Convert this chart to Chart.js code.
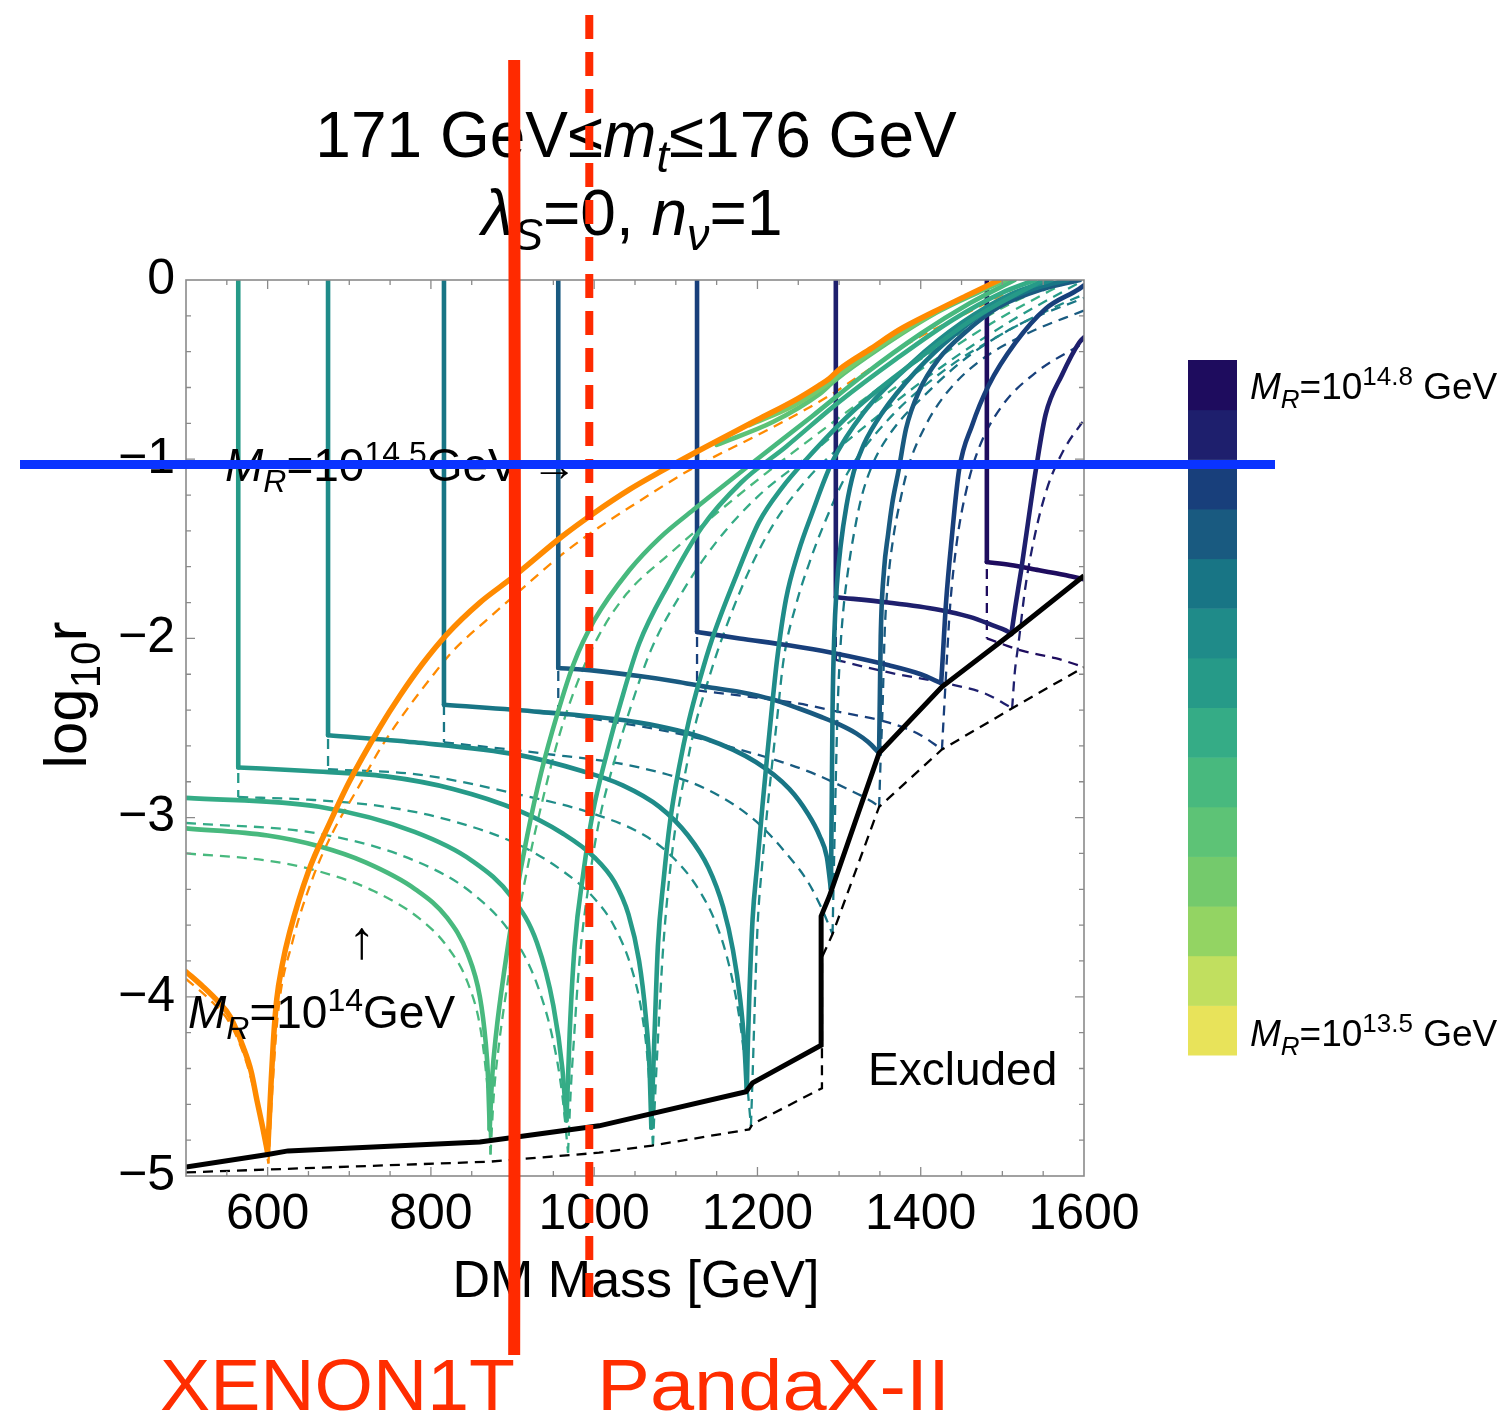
<!DOCTYPE html>
<html>
<head>
<meta charset="utf-8">
<script src="https://cdn.jsdelivr.net/npm/chart.js@4.4.1/dist/chart.umd.min.js"></script>
<style>
  html, body { margin: 0; padding: 0; background: #fff; }
  canvas { display: block; }
</style>
</head>
<body>
<canvas id="chart" width="1506" height="1417"></canvas>
<script>
// axis ticks
const xTicks = [600, 800, 1000, 1200, 1400, 1600];
const yTicks = [0, -1, -2, -3, -4, -5];

// colour bar levels, log10(M_R / GeV), bottom to top
const mrLevels = [13.5, 13.6, 13.7, 13.8, 13.9, 14.0, 14.1, 14.2, 14.3, 14.4, 14.5, 14.6, 14.7, 14.8];
const mrColors = ['#e8e35a', '#c1df5f', '#93d463', '#74ca6c', '#5dc376', '#48b97e', '#35ac86',
                  '#269a88', '#1f8b89', '#187585', '#195a80', '#183f7b', '#1e1f6d', '#1e0c5e'];

// [DM mass, log10 r]
const orangeSolid = [[500,-3.86],[520,-3.94],[540,-4.03],[554,-4.11],[570,-4.28],[580,-4.42],[587,-4.58],[594,-4.73],[600,-4.87],
  [604,-4.5],[607,-4.25],[611,-4.02],[618,-3.82],[627,-3.64],[650,-3.30],[676,-3.03],[700,-2.80],[737,-2.50],[762,-2.32],
  [790,-2.14],[819,-1.98],[860,-1.80],[900,-1.66],[961,-1.43],[1000,-1.30],[1043,-1.17],[1085,-1.06],[1125,-0.96],
  [1200,-0.78],[1250,-0.66],[1275,-0.59],[1288,-0.55],[1300,-0.50],[1340,-0.38],[1373,-0.28],[1415,-0.18],[1455,-0.09],[1496,0]];
const orangeDashed = [[500,-3.90],[530,-4.02],[554,-4.15],[575,-4.38],[590,-4.66],[601,-4.93],[606,-4.5],[613,-4.08],[630,-3.70],
  [655,-3.34],[680,-3.08],[710,-2.84],[740,-2.60],[770,-2.40],[800,-2.22],[827,-2.07],[870,-1.89],[900,-1.77],[961,-1.53],
  [1006,-1.38],[1043,-1.27],[1117,-1.06],[1211,-0.84],[1260,-0.72],[1290,-0.64],[1320,-0.55],[1394,-0.33],[1450,-0.20],[1492,-0.10],[1535,0]];

const mr139Solid = [[1150,-0.92],[1220,-0.79],[1275,-0.64],[1295,-0.56],[1350,-0.38],[1420,-0.18],[1470,-0.07],[1505,0]];
const mr138Solid = [[1190,-0.81],[1245,-0.70],[1283,-0.59],[1300,-0.53],[1360,-0.34],[1430,-0.15],[1500,0]];

const mr140Solid = [[500,-3.06],[600,-3.10],[663,-3.16],[720,-3.25],[781,-3.40],[820,-3.56],[845,-3.76],[860,-4.00],[867,-4.25],
  [870,-4.45],[872,-4.74],[875,-4.45],[880,-4.20],[890,-3.85],[903,-3.47],[918,-3.10],[935,-2.75],[955,-2.42],[975,-2.14],
  [1000,-1.90],[1043,-1.62],[1080,-1.44],[1125,-1.27],[1194,-1.02],[1267,-0.76],[1330,-0.53],[1400,-0.30],[1460,-0.13],[1515,0]];
const mr140Dashed = [[500,-3.20],[600,-3.24],[663,-3.30],[730,-3.41],[785,-3.56],[820,-3.72],[845,-3.92],[860,-4.16],[867,-4.40],
  [871,-4.62],[873,-4.88],[877,-4.55],[883,-4.28],[893,-3.95],[906,-3.58],[921,-3.22],[938,-2.88],[958,-2.53],[980,-2.24],
  [1005,-1.99],[1040,-1.75],[1092,-1.53],[1140,-1.34],[1210,-1.08],[1285,-0.82],[1350,-0.60],[1420,-0.38],[1490,-0.18],[1570,0]];

const mr141Solid = [[500,-2.89],[663,-2.94],[780,-3.08],[850,-3.24],[900,-3.45],[930,-3.70],[950,-4.05],[961,-4.40],[966,-4.69],
  [968,-4.45],[970,-4.2],[976,-3.72],[987,-3.30],[998,-2.98],[1015,-2.65],[1033,-2.35],[1055,-2.03],[1092,-1.69],[1132,-1.38],
  [1180,-1.13],[1235,-0.93],[1300,-0.68],[1370,-0.44],[1440,-0.22],[1500,-0.07],[1540,0]];
const mr141Dashed = [[500,-3.03],[663,-3.09],[780,-3.24],[850,-3.42],[900,-3.66],[930,-3.93],[950,-4.25],[961,-4.55],[968,-4.87],
  [971,-4.55],[975,-4.25],[982,-3.80],[994,-3.35],[1006,-3.02],[1025,-2.68],[1045,-2.38],[1070,-2.06],[1108,-1.74],[1150,-1.46],
  [1200,-1.21],[1260,-0.99],[1330,-0.73],[1400,-0.50],[1480,-0.26],[1550,-0.08],[1585,0]];

const mr142Solid = [[564,0],[564,-2.72],[650,-2.74],[745,-2.77],[827,-2.84],[907,-2.96],[962,-3.09],[1000,-3.22],[1025,-3.36],
  [1042,-3.54],[1055,-3.80],[1063,-4.10],[1068,-4.42],[1070,-4.73],[1072,-4.45],[1074,-4.2],[1078,-3.72],[1085,-3.35],[1093,-3.02],
  [1104,-2.72],[1116,-2.46],[1130,-2.22],[1144,-2.01],[1175,-1.64],[1202,-1.35],[1230,-1.16],[1260,-1.00],[1320,-0.72],[1400,-0.43],
  [1470,-0.20],[1550,0]];
const mr142Dashed = [[564,0],[564,-2.885],[650,-2.90],[745,-2.94],[827,-3.02],[907,-3.15],[962,-3.30],[1000,-3.45],[1025,-3.61],
  [1045,-3.83],[1058,-4.08],[1066,-4.38],[1072,-4.83],[1075,-4.52],[1079,-4.16],[1084,-3.76],[1091,-3.38],[1100,-3.04],[1112,-2.74],
  [1124,-2.48],[1140,-2.23],[1155,-2.02],[1188,-1.64],[1220,-1.36],[1250,-1.17],[1280,-1.02],[1350,-0.75],[1430,-0.47],[1510,-0.23],
  [1580,-0.05],[1600,0]];

const mr143Solid = [[674,0],[674,-2.54],[780,-2.58],[907,-2.65],[985,-2.74],[1035,-2.82],[1080,-2.94],[1115,-3.10],[1140,-3.28],
  [1158,-3.50],[1170,-3.74],[1179,-4.02],[1184,-4.27],[1187,-4.53],[1188,-4.30],[1190,-4.00],[1194,-3.57],[1200,-3.25],[1206,-2.94],
  [1212,-2.65],[1217,-2.42],[1224,-2.12],[1235,-1.78],[1250,-1.52],[1267,-1.30],[1291,-1.02],[1330,-0.74],[1390,-0.46],[1450,-0.24],
  [1510,-0.08],[1560,0]];
const mr143Dashed = [[674,0],[674,-2.73],[785,-2.76],[907,-2.87],[1000,-2.98],[1062,-3.10],[1096,-3.22],[1125,-3.38],[1150,-3.60],
  [1165,-3.82],[1178,-4.12],[1186,-4.42],[1192,-4.72],[1194,-4.45],[1196,-4.15],[1200,-3.62],[1206,-3.25],[1212,-2.96],[1218,-2.70],
  [1224,-2.45],[1232,-2.12],[1248,-1.80],[1265,-1.56],[1280,-1.38],[1310,-1.08],[1360,-0.78],[1430,-0.50],[1500,-0.30],[1560,-0.16],
  [1600,-0.08]];

const mr144Solid = [[816,0],[816,-2.37],[933,-2.41],[1055,-2.47],[1137,-2.56],[1198,-2.69],[1239,-2.84],[1262,-2.98],[1276,-3.10],
  [1285,-3.22],[1290,-3.40],[1291,-2.90],[1292,-2.40],[1294,-2.00],[1297,-1.72],[1302,-1.48],[1309,-1.26],[1318,-1.07],[1330,-0.92],
  [1353,-0.74],[1394,-0.51],[1443,-0.30],[1496,-0.13],[1545,-0.04],[1580,0]];
const mr144Dashed = [[816,0],[816,-2.58],[933,-2.64],[1055,-2.72],[1137,-2.84],[1198,-3.02],[1239,-3.22],[1262,-3.36],[1278,-3.50],
  [1292,-3.65],[1294,-3.20],[1296,-2.78],[1298,-2.42],[1301,-2.10],[1305,-1.85],[1311,-1.62],[1318,-1.42],[1327,-1.22],[1340,-1.04],
  [1362,-0.86],[1410,-0.62],[1460,-0.42],[1520,-0.25],[1600,-0.10]];

const mr145Solid = [[956,0],[956,-2.165],[1000,-2.18],[1055,-2.21],[1100,-2.24],[1137,-2.27],[1180,-2.30],[1218,-2.34],[1250,-2.39],
  [1279,-2.44],[1300,-2.48],[1321,-2.53],[1336,-2.58],[1349,-2.64],[1350,-2.30],[1351,-1.99],[1355,-1.62],[1360,-1.42],[1365,-1.25],
  [1373,-1.06],[1382,-0.83],[1398,-0.62],[1422,-0.44],[1455,-0.29],[1496,-0.15],[1550,-0.05],[1595,0]];
const mr145Dashed = [[956,0],[956,-2.42],[1015,-2.46],[1080,-2.51],[1130,-2.56],[1178,-2.62],[1230,-2.69],[1272,-2.76],[1310,-2.84],
  [1340,-2.91],[1349,-2.94],[1351,-2.66],[1353,-2.42],[1356,-1.95],[1360,-1.68],[1366,-1.45],[1374,-1.25],[1385,-1.04],[1405,-0.82],
  [1430,-0.64],[1470,-0.46],[1530,-0.30],[1600,-0.17]];

const mr146Solid = [[1126,0],[1126,-1.964],[1178,-2.00],[1240,-2.04],[1291,-2.08],[1361,-2.15],[1400,-2.20],[1425,-2.25],[1426,-2.18],
  [1431,-1.80],[1438,-1.44],[1447,-1.06],[1463,-0.81],[1483,-0.59],[1516,-0.35],[1553,-0.16],[1594,-0.05],[1600,-0.03]];
const mr146Dashed = [[1126,0],[1126,-2.29],[1180,-2.32],[1246,-2.36],[1300,-2.41],[1361,-2.47],[1400,-2.54],[1426,-2.62],[1428,-2.45],
  [1431,-2.20],[1436,-1.82],[1444,-1.47],[1456,-1.17],[1472,-0.93],[1500,-0.70],[1540,-0.52],[1600,-0.35]];

const mr147Solid = [[1296,0],[1296,-1.77],[1360,-1.80],[1422,-1.84],[1460,-1.88],[1490,-1.93],[1504,-1.955],[1511,-1.975],[1516,-1.82],
  [1523,-1.62],[1535,-1.24],[1541,-1.06],[1553,-0.75],[1573,-0.53],[1594,-0.35],[1600,-0.32]];
const mr147Dashed = [[1296,0],[1296,-2.12],[1361,-2.19],[1430,-2.25],[1480,-2.31],[1512,-2.39],[1515,-2.2],[1520,-2.02],[1528,-1.72],
  [1540,-1.42],[1555,-1.16],[1575,-0.95],[1600,-0.78]];

const mr148Solid = [[1481,0],[1481,-1.574],[1510,-1.59],[1545,-1.62],[1575,-1.645],[1600,-1.67]];
const mr148Dashed = [[1481,0],[1481,-2.00],[1525,-2.07],[1565,-2.11],[1600,-2.16]];

const boundSolid = [[500,-4.95],[600,-4.88],[625,-4.86],[860,-4.81],[1006,-4.72],[1186,-4.53],[1194,-4.48],[1278,-4.27],[1278,-3.55],
  [1288,-3.44],[1349,-2.64],[1426,-2.27],[1512,-1.97],[1600,-1.65]];
const boundDashed = [[500,-4.98],[872,-4.92],[1006,-4.87],[1071,-4.83],[1190,-4.74],[1194,-4.71],[1279,-4.51],[1279,-3.78],[1292,-3.65],
  [1349,-2.94],[1426,-2.62],[1512,-2.39],[1600,-2.16]];

// hand-drawn marks on top of the figure
const xenonLimit = 902;
const pandaxLimit = 994;
const markLevel = -1.03;

const FONT = '"Liberation Sans", Arial, Helvetica, sans-serif';
const colorOf = lvl => mrColors[mrLevels.indexOf(lvl)];
const pts = arr => arr.map(p => ({ x: p[0], y: p[1] }));

// split a curve into its vertical drop, descending arm and rising arm
function pieces(arr) {
    const out = [];
    let start = 0;
    if (arr.length > 1 && arr[0][0] === arr[1][0]) {
        out.push({ data: arr.slice(0, 2), curved: false });
        start = 1;
    }
    let low = start;
    for (let i = start; i < arr.length; i++) if (arr[i][1] < arr[low][1]) low = i;
    if (low > start) out.push({ data: arr.slice(start, low + 1), curved: true });
    if (low < arr.length - 1) out.push({ data: arr.slice(low), curved: true });
    return out;
}

function curve(arr, color, width, dash, order) {
    return pieces(arr).map(p => ({
        data: pts(p.data),
        borderColor: color,
        borderWidth: width,
        borderDash: dash || [],
        borderCapStyle: dash ? 'butt' : 'round',
        cubicInterpolationMode: p.curved ? 'monotone' : 'default',
        showLine: true, pointRadius: 0, fill: false, order: order
    }));
}
function polyline(arr, color, width, dash, order) {
    return { data: pts(arr), borderColor: color, borderWidth: width, borderDash: dash || [],
             showLine: true, pointRadius: 0, fill: false, order: order };
}

const DASH = [10, 7];
const solids = [
    [mr138Solid, 13.8], [mr139Solid, 13.9], [mr140Solid, 14.0], [mr141Solid, 14.1], [mr142Solid, 14.2],
    [mr143Solid, 14.3], [mr144Solid, 14.4], [mr145Solid, 14.5], [mr146Solid, 14.6], [mr147Solid, 14.7], [mr148Solid, 14.8]
];
const dasheds = [
    [mr140Dashed, 14.0], [mr141Dashed, 14.1], [mr142Dashed, 14.2], [mr143Dashed, 14.3], [mr144Dashed, 14.4],
    [mr145Dashed, 14.5], [mr146Dashed, 14.6], [mr147Dashed, 14.7], [mr148Dashed, 14.8]
];

let datasets = [polyline(boundSolid, '#000', 5, null, 0)];
datasets = datasets.concat(curve(orangeSolid, '#ff8a00', 5.5, null, 1));
solids.forEach(s => { datasets = datasets.concat(curve(s[0], colorOf(s[1]), 4.6, null, 2)); });
datasets.push(polyline(boundDashed, '#000', 2.3, DASH, 3));
datasets = datasets.concat(curve(orangeDashed, '#ff8a00', 2.3, DASH, 4));
dasheds.forEach(s => { datasets = datasets.concat(curve(s[0], colorOf(s[1]), 2.3, DASH, 5)); });

// rich text: runs of [text, style]; n normal, i italic, sb sub, isb italic sub, sp sup
function runFont(style, size) {
    const small = style === 'sb' || style === 'isb' || style === 'sp';
    const italic = style === 'i' || style === 'isb';
    return (italic ? 'italic ' : '') + Math.round(small ? size * 0.7 : size) + 'px ' + FONT;
}
function runsWidth(ctx, runs, size) {
    let w = 0;
    runs.forEach(r => { ctx.font = runFont(r[1], size); w += ctx.measureText(r[0]).width; });
    return w;
}
function drawRuns(ctx, runs, x, y, size, align) {
    let cx = x;
    if (align === 'center') cx = x - runsWidth(ctx, runs, size) / 2;
    ctx.textAlign = 'left';
    ctx.textBaseline = 'alphabetic';
    runs.forEach(r => {
        ctx.font = runFont(r[1], size);
        let dy = 0;
        if (r[1] === 'sb' || r[1] === 'isb') dy = size * 0.24;
        if (r[1] === 'sp') dy = -size * 0.38;
        ctx.fillText(r[0], cx, y + dy);
        cx += ctx.measureText(r[0]).width;
    });
}
function drawFitted(ctx, text, x, y, size, width) {
    ctx.font = size + 'px ' + FONT;
    const w = ctx.measureText(text).width;
    ctx.save();
    ctx.translate(x, y);
    ctx.scale(width / w, 1);
    ctx.textAlign = 'left';
    ctx.textBaseline = 'alphabetic';
    ctx.fillText(text, 0, 0);
    ctx.restore();
}

const decorPlugin = {
    id: 'decor',
    afterDatasetsDraw(chart) {
        const ctx = chart.ctx;
        const a = chart.chartArea;
        const xs = chart.scales.x, ys = chart.scales.y;
        ctx.save();
        ctx.strokeStyle = '#8a8a8a';
        ctx.lineWidth = 1.6;
        ctx.strokeRect(a.left, a.top, a.right - a.left, a.bottom - a.top);
        ctx.lineWidth = 1.3;
        ctx.beginPath();
        for (let v = 550; v < 1600; v += 50) {
            const px = xs.getPixelForValue(v);
            const len = (v % 200 === 0) ? 9 : 5;
            ctx.moveTo(px, a.bottom); ctx.lineTo(px, a.bottom - len);
            ctx.moveTo(px, a.top); ctx.lineTo(px, a.top + len);
        }
        for (let k = 1; k < 25; k++) {
            const py = ys.getPixelForValue(-k * 0.2);
            const len = (k % 5 === 0) ? 9 : 5;
            ctx.moveTo(a.left, py); ctx.lineTo(a.left + len, py);
            ctx.moveTo(a.right, py); ctx.lineTo(a.right - len, py);
        }
        ctx.stroke();
        ctx.restore();
    },
    afterDraw(chart) {
        const ctx = chart.ctx;
        const xs = chart.scales.x, ys = chart.scales.y;
        ctx.save();
        ctx.fillStyle = '#000';
        drawRuns(ctx, [['171 GeV\u2264', 'n'], ['m', 'i'], ['t', 'isb'], ['\u2264176 GeV', 'n']], 636, 157, 64, 'center');
        drawRuns(ctx, [['\u03bb', 'i'], ['S', 'isb'], ['=0, ', 'n'], ['n', 'i'], ['\u03bd', 'isb'], ['=1', 'n']], 632, 235, 64, 'center');
        drawRuns(ctx, [['DM Mass [GeV]', 'n']], 636, 1297, 52, 'center');

        ctx.save();
        ctx.translate(86, 695);
        ctx.rotate(-Math.PI / 2);
        drawRuns(ctx, [['log', 'n'], ['10', 'sb'], ['r', 'n']], 0, 0, 60, 'center');
        ctx.restore();

        drawRuns(ctx, [['M', 'i'], ['R', 'isb'], ['=10', 'n'], ['14.5', 'sp'], ['GeV \u2192', 'n']], 225, 481, 46, 'left');
        drawRuns(ctx, [['\u2191', 'n']], 362, 958, 54, 'center');
        drawRuns(ctx, [['M', 'i'], ['R', 'isb'], ['=10', 'n'], ['14', 'sp'], ['GeV', 'n']], 188, 1028, 46, 'left');
        drawRuns(ctx, [['Excluded', 'n']], 868, 1085, 46, 'left');

        // colour bar
        const barTop = 360, barBottom = 1055, barLeft = 1188, barW = 49;
        const h = (barBottom - barTop) / mrColors.length;
        mrColors.forEach((c, i) => {
            ctx.fillStyle = c;
            ctx.fillRect(barLeft, barBottom - (i + 1) * h, barW, h + 0.5);
        });
        ctx.fillStyle = '#000';
        drawRuns(ctx, [['M', 'i'], ['R', 'isb'], ['=10', 'n'], ['14.8', 'sp'], [' GeV', 'n']], 1250, 399, 37, 'left');
        drawRuns(ctx, [['M', 'i'], ['R', 'isb'], ['=10', 'n'], ['13.5', 'sp'], [' GeV', 'n']], 1250, 1046, 37, 'left');

        // hand-drawn experimental limits
        ctx.lineCap = 'butt';
        ctx.strokeStyle = '#ff2a00';
        ctx.lineWidth = 12;
        const xx = xs.getPixelForValue(xenonLimit);
        ctx.beginPath(); ctx.moveTo(xx, 60); ctx.lineTo(xx + 1, 700); ctx.lineTo(xx, 1355); ctx.stroke();
        const xp = xs.getPixelForValue(pandaxLimit);
        ctx.lineWidth = 8;
        ctx.setLineDash([24, 13]);
        ctx.beginPath(); ctx.moveTo(xp, 15); ctx.lineTo(xp, 1305); ctx.stroke();
        ctx.setLineDash([]);
        const yb = ys.getPixelForValue(markLevel);
        ctx.strokeStyle = '#0a33ff';
        ctx.lineWidth = 9;
        ctx.beginPath(); ctx.moveTo(20, yb); ctx.lineTo(1275, yb); ctx.stroke();

        ctx.fillStyle = '#ff2d00';
        drawFitted(ctx, 'XENON1T', 160, 1410, 72, 355);
        drawFitted(ctx, 'PandaX-II', 597, 1410, 72, 353);
        ctx.restore();
    }
};

const minusLabel = v => String(v).replace('-', '\u2212');

new Chart(document.getElementById('chart'), {
    type: 'scatter',
    data: { datasets: datasets },
    options: {
        responsive: false,
        animation: false,
        layout: { padding: { left: 56, right: 422, top: 280, bottom: 121 } },
        plugins: { legend: { display: false }, tooltip: { enabled: false } },
        elements: { line: { tension: 0 } },
        scales: {
            x: {
                type: 'linear', min: 500, max: 1600,
                afterBuildTicks: s => { s.ticks = xTicks.map(v => ({ value: v })); },
                afterFit: s => { s.height = 120; },
                grid: { display: false, drawTicks: false }, border: { display: false },
                ticks: { color: '#000', font: { family: FONT, size: 50 }, padding: 9, maxRotation: 0, callback: minusLabel }
            },
            y: {
                type: 'linear', min: -5, max: 0,
                afterBuildTicks: s => { s.ticks = yTicks.map(v => ({ value: v })); },
                afterFit: s => { s.width = 130; },
                grid: { display: false, drawTicks: false }, border: { display: false },
                ticks: { color: '#000', font: { family: FONT, size: 50 }, padding: 11, callback: minusLabel }
            }
        }
    },
    plugins: [decorPlugin]
});
</script>
</body>
</html>
